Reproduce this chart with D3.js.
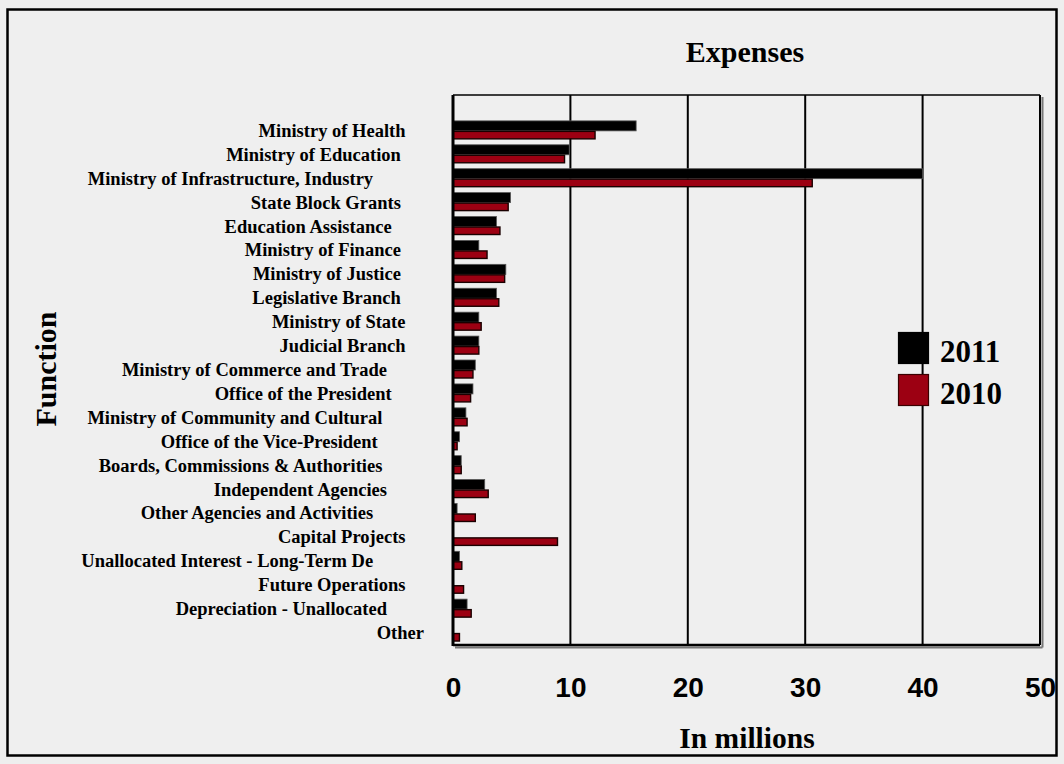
<!DOCTYPE html>
<html>
<head>
<meta charset="utf-8">
<script src="https://cdn.jsdelivr.net/npm/d3@7/dist/d3.min.js"></script>
<style>
  html, body { margin: 0; padding: 0; background: #eeeeee; }
  svg { display: block; }
  text { font-family: "Liberation Serif", "Times New Roman", serif; font-weight: bold; fill: #000; }
  .cat { white-space: pre; }
</style>
</head>
<body>
<svg width="1064" height="764"></svg>
<script>
// Expense functions, top to bottom (labels keep their original trailing spaces)
var categories = [
    "Ministry of Health    ",
    "Ministry of Education     ",
    "Ministry of Infrastructure, Industry           ",
    "State Block Grants     ",
    "Education Assistance       ",
    "Ministry of Finance     ",
    "Ministry of Justice     ",
    "Legislative Branch     ",
    "Ministry of State    ",
    "Judicial Branch    ",
    "Ministry of Commerce and Trade        ",
    "Office of the President       ",
    "Ministry of Community and Cultural         ",
    "Office of the Vice-President          ",
    "Boards, Commissions & Authorities         ",
    "Independent Agencies        ",
    "Other Agencies and Activities           ",
    "Capital Projects    ",
    "Unallocated Interest - Long-Term De           ",
    "Future Operations    ",
    "Depreciation - Unallocated        ",
    "Other"
];

// In millions
var values2011 = [15.6, 9.9, 40.0, 4.9, 3.7, 2.2, 4.5, 3.7, 2.2, 2.2, 1.9, 1.7, 1.1, 0.55, 0.7, 2.7, 0.35, 0, 0.55, 0, 1.2, 0];
var values2010 = [12.1, 9.5, 30.6, 4.7, 4.0, 2.9, 4.4, 3.9, 2.4, 2.2, 1.7, 1.5, 1.2, 0.35, 0.7, 3.0, 1.9, 8.9, 0.75, 0.9, 1.55, 0.55];

var xTicks = [0, 10, 20, 30, 40, 50];
var seriesNames = ["2011", "2010"];
var seriesColors = ["#000000", "#9c0012"];

(function() {
    var svg = d3.select("svg");

    var plot = { left: 453, right: 1040, top: 95, bottom: 645 };
    var plotH = plot.bottom - plot.top;

    // outer frame
    svg.append("rect")
        .attr("x", 7.5).attr("y", 9.5)
        .attr("width", 1049).attr("height", 746)
        .attr("fill", "#efefef")
        .attr("stroke", "#000")
        .attr("stroke-width", 2.5);

    var x = d3.scaleLinear().domain([0, 50]).range([plot.left, plot.right]);

    // one empty slot above the first category
    var step = plotH / (categories.length + 1);
    var y = d3.scaleBand()
        .domain(categories)
        .range([plot.top + step, plot.bottom])
        .padding(0);

    // gridlines
    svg.append("g")
        .selectAll("line")
        .data(xTicks.filter(function(d) { return d > 0 && d < 50; }))
        .enter().append("line")
        .attr("x1", function(d) { return x(d); })
        .attr("x2", function(d) { return x(d); })
        .attr("y1", plot.top)
        .attr("y2", plot.bottom)
        .attr("stroke", "#000")
        .attr("stroke-width", 2);

    // plot frame: top thin, right/bottom with shadow
    svg.append("line")
        .attr("x1", plot.left).attr("x2", plot.right)
        .attr("y1", plot.top).attr("y2", plot.top)
        .attr("stroke", "#000").attr("stroke-width", 1.5);
    svg.append("line")
        .attr("x1", plot.right + 2.5).attr("x2", plot.right + 2.5)
        .attr("y1", plot.top + 2).attr("y2", plot.bottom + 2.5)
        .attr("stroke", "#777").attr("stroke-width", 2);
    svg.append("line")
        .attr("x1", plot.left + 2).attr("x2", plot.right + 2.5)
        .attr("y1", plot.bottom + 2.5).attr("y2", plot.bottom + 2.5)
        .attr("stroke", "#777").attr("stroke-width", 2);
    svg.append("line")
        .attr("x1", plot.right).attr("x2", plot.right)
        .attr("y1", plot.top).attr("y2", plot.bottom)
        .attr("stroke", "#000").attr("stroke-width", 2);

    var rows = categories.map(function(c, i) {
        return { cat: c, v2011: values2011[i], v2010: values2010[i] };
    });

    var bars = svg.append("g");

    // 2011 (black)
    bars.selectAll(".bar2011")
        .data(rows.filter(function(d) { return d.v2011 > 0; }))
        .enter().append("rect")
        .attr("class", "bar2011")
        .attr("x", plot.left)
        .attr("y", function(d) { return y(d.cat) + y.bandwidth() / 2 - 10; })
        .attr("width", function(d) { return x(d.v2011) - plot.left; })
        .attr("height", 10)
        .attr("fill", seriesColors[0])
        .attr("stroke", "#555")
        .attr("stroke-width", 0.8);

    // 2010 (red)
    bars.selectAll(".bar2010")
        .data(rows.filter(function(d) { return d.v2010 > 0; }))
        .enter().append("rect")
        .attr("class", "bar2010")
        .attr("x", plot.left)
        .attr("y", function(d) { return y(d.cat) + y.bandwidth() / 2 + 0.5; })
        .attr("width", function(d) { return x(d.v2010) - plot.left; })
        .attr("height", 7.5)
        .attr("fill", seriesColors[1])
        .attr("stroke", "#1a0000")
        .attr("stroke-width", 1.4);

    // axes lines
    svg.append("line")
        .attr("x1", plot.left).attr("x2", plot.right)
        .attr("y1", plot.bottom).attr("y2", plot.bottom)
        .attr("stroke", "#000").attr("stroke-width", 2.5);
    svg.append("line")
        .attr("x1", plot.left).attr("x2", plot.left)
        .attr("y1", plot.top).attr("y2", plot.bottom + 1)
        .attr("stroke", "#000").attr("stroke-width", 3);

    // x tick labels
    var xAxis = svg.append("g")
        .attr("transform", "translate(0," + plot.bottom + ")")
        .call(d3.axisBottom(x).tickValues(xTicks).tickSize(0).tickPadding(32).tickFormat(d3.format("d")));
    xAxis.select(".domain").remove();
    xAxis.selectAll("text")
        .style("font-family", "'Liberation Sans', Arial, sans-serif")
        .style("font-weight", "bold")
        .style("font-size", "28px")
        .attr("fill", "#000");

    // category labels
    svg.append("g")
        .selectAll("text")
        .data(categories)
        .enter().append("text")
        .attr("class", "cat")
        .attr("x", 424)
        .attr("y", function(d) { return y(d) + y.bandwidth() / 2 + 6; })
        .attr("text-anchor", "end")
        .style("font-size", "18.5px")
        .text(function(d) { return d; });

    // title & axis titles
    svg.append("text")
        .attr("x", 745).attr("y", 62)
        .attr("text-anchor", "middle")
        .style("font-size", "30px")
        .text("Expenses");

    svg.append("text")
        .attr("x", 747).attr("y", 748)
        .attr("text-anchor", "middle")
        .style("font-size", "29.5px")
        .text("In millions");

    svg.append("text")
        .attr("transform", "translate(56,369) rotate(-90)")
        .attr("text-anchor", "middle")
        .style("font-size", "30px")
        .text("Function");

    // legend
    var legend = svg.append("g");
    seriesNames.forEach(function(name, i) {
        var ly = 332 + i * 42;
        legend.append("rect")
            .attr("x", 898.5).attr("y", ly + 0.5)
            .attr("width", 30).attr("height", 31)
            .attr("fill", seriesColors[i])
            .attr("stroke", i === 0 ? "#000" : "#3a0000")
            .attr("stroke-width", 1.2);
        legend.append("text")
            .attr("x", 940).attr("y", ly + 30)
            .style("font-size", "31px")
            .text(name);
    });
})();
</script>
</body>
</html>
